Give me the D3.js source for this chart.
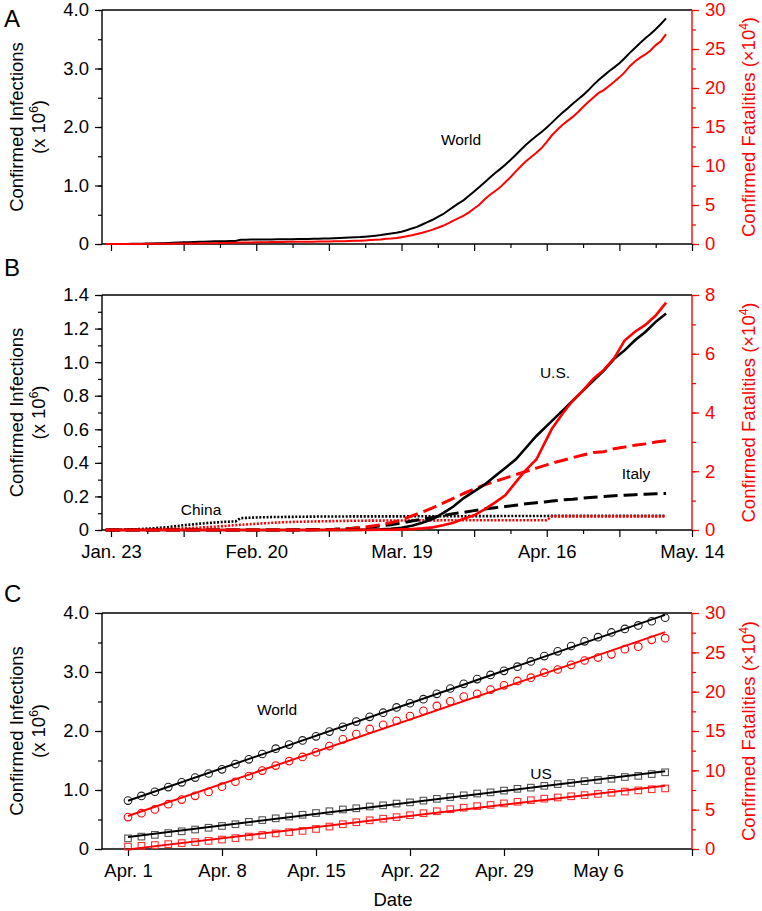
<!DOCTYPE html>
<html lang="en">
<head>
<meta charset="utf-8">
<title>Confirmed infections and fatalities</title>
<script src="https://d3js.org/d3.v7.min.js"></script>
<style>
  body { margin: 0; background: #fff; }
  svg text { font-family: "Liberation Sans", Arial, sans-serif; }
</style>
</head>
<body>
<script>

// ---------- data ----------
// panel A: world, daily from Jan 22 (cases x10^6, deaths x10^4)
var aStart = "2020-01-22";
var worldCasesA = [
  .0003, .0006, .0008, .0013, .0020, .0028, .0046, .0061, .0078, .0098,
  .0120, .0146, .0174, .0206, .0246, .0283, .0315, .0349, .0376, .0406, .0431, .0452, .0470, .0491, .0506,
  .0519, .0714, .0733, .0752, .0757, .0768, .0778, .0788, .0793, .0802, .0811, .0823, .0837, .0854,
  .0871, .0889, .0909, .0931, .0953, .0982, .1020, .1056, .1096, .1137, .1183, .1250, .1328, .1425, .1535,
  .1675, .1791, .1911, .2098, .2341, .2661, .2921, .3329, .3728, .4142, .4627, .5092, .5717, .6348, .6932, .7509,
  .8236, .8965, .9723, 1.0516, 1.1338, 1.2110, 1.2797, 1.3534, 1.4362, 1.5213, 1.6109, 1.6966, 1.7731, 1.8449, 1.9149,
  1.9916, 2.0745, 2.1602, 2.2418, 2.3146, 2.3972, 2.4711, 2.5448, 2.6263, 2.7199, 2.8048, 2.8782, 2.9542, 3.0190, 3.0904,
  3.1752, 3.2672, 3.3498, 3.4359, 3.5173, 3.5888, 3.6722, 3.7600, 3.8558
];
var worldDeathsA = [
  .0006, .0017, .0025, .0041, .0056, .0080, .0106, .0132, .0170, .0213,
  .0259, .0305, .0362, .0426, .0492, .0565, .0638, .0724, .0813, .0910, .1018, .1115, .1260, .1383, .1526,
  .1669, .1775, .1873, .2009, .2129, .2247, .2360, .2462, .2618, .2699, .2762, .2804, .2858, .2924,
  .2977, .3043, .3112, .3198, .3285, .3380, .3491, .3584, .3802, .4011, .4291, .4613, .4983, .5396, .5735,
  .6606, .7087, .7807, .8778, .9840, 1.1184, 1.2783, 1.4510, 1.6231, 1.8440, 2.0834, 2.3335, 2.6494, 2.9957, 3.3106, 3.6405,
  4.0598, 4.5526, 5.0321, 5.6985, 6.2784, 6.7594, 7.2614, 7.9235, 8.5521, 9.2798, 9.9690, 10.5952, 11.1652, 11.7021, 12.3010,
  13.0885, 13.9378, 14.6088, 15.2551, 15.7847, 16.2956, 16.9006, 17.5694, 18.1938, 18.7705, 19.3710, 19.7246, 20.2597, 20.7973, 21.3614,
  22.0, 22.8, 23.4, 23.9, 24.3, 24.8, 25.5, 26.0, 26.9
];

// panel B: U.S., Italy, China
var bDates = ["01-22","01-25","01-28","01-31","02-03","02-06","02-09","02-12","02-14","02-16",
  "02-17","02-20","02-23","02-26","02-29","03-03","03-06","03-09","03-12","03-15",
  "03-17","03-19","03-21","03-23","03-25","03-27","03-29","03-31","04-02","04-04",
  "04-06","04-08","04-10","04-12","04-14","04-16","04-17","04-19","04-21","04-23",
  "04-25","04-27","04-29","05-01","05-03","05-05","05-07","05-09"];
var usCasesB = [0,0,0,0,0,0,0,0,0,0, 0,0,0,.0001,.0001,.0001,.0003,.0006,.0016,.0035,
  .0065,.0137,.025,.043,.065,.100,.14,.19,.23,.27, .32,.37,.42,.49,.56,.62,.65,.71,.77,.83,
  .89,.95,1.02,1.07,1.13,1.18,1.24,1.29];
var usDeathsB = [0,0,0,0,0,0,0,0,0,0, 0,0,0,0,.0001,.0007,.0012,.0022,.004,.006,
  .01,.02,.03,.055,.09,.16,.25,.38,.50,.70, .93,1.18,1.62,2.05,2.40,3.10,3.45,3.95,4.40,4.75,
  5.15,5.45,5.85,6.45,6.75,6.98,7.30,7.74];
var italyCasesB = [0,0,0,0,0,0,0,0,0,0, 0,0,.00015,.0004,.0011,.0025,.0046,.0092,.0152,.0247,
  .0315,.0414,.0536,.0638,.0746,.0865,.0975,.1056,.1155,.1246, .1325,.1396,.1474,.1564,.1622,.1686,.1721,.1789,.1832,.1896,
  .1955,.1991,.2036,.2075,.2106,.2134,.2155,.2180];
var italyDeathsB = [0,0,0,0,0,0,0,0,0,0, 0,0,.0003,.0012,.0029,.0079,.0197,.0463,.1016,.1809,
  .2503,.3405,.4825,.6077,.7503,.9134,1.0779,1.2428,1.3915,1.5362, 1.6523,1.7669,1.8849,1.9899,2.1067,2.2170,2.2745,2.3660,2.4648,2.5549,
  2.6384,2.6644,2.7682,2.8236,2.8884,2.9315,2.9958,3.0395];
var chinaCasesB = [.0003,.0013,.0045,.0098,.0172,.0282,.0374,.0446,.0489,.0512,
  .0706,.0748,.0770,.0781,.0790,.0802,.0806,.0809,.0810,.0812, .0813,.0814,.0815,.0816,.0817,.0818,.0820,.0823,.0825,.0827,
  .0829,.0831,.0833,.0835,.0837,.0838,.0840,.0841,.0842,.0842, .0843,.0843,.0843,.0843,.0843,.0844,.0844,.0844];
var chinaDeathsB = [.0006,.0041,.0106,.0213,.0361,.0563,.0811,.1117,.1381,.1666,
  .1772,.2118,.2442,.2715,.2835,.2943,.3045,.3123,.3173,.3199, .3231,.3249,.3261,.3274,.3287,.3298,.3308,.3312,.3322,.3330,
  .3335,.3339,.3340,.3341,.3342,.3342,.4642,.4642,.4642,.4642, .4642,.4643,.4643,.4643,.4643,.4643,.4644,.4645];
var bLabelDates = ["01-23","02-20","03-19","04-16","05-14"];
var bLabels = ["Jan. 23","Feb. 20","Mar. 19","Apr. 16","May. 14"];

// panel C: daily from Apr 1
var cStart = "2020-04-01";
var worldCasesC = [.82,.90,.97,1.05,1.13,1.21,1.28,1.35,1.44,1.52, 1.61,1.70,1.77,1.84,1.91,1.99,2.07,2.16,2.24,2.31,
  2.40,2.47,2.54,2.63,2.72,2.80,2.88,2.95,3.02,3.09, 3.18,3.27,3.35,3.44,3.52,3.59,3.67,3.73,3.79,3.86,3.92];
var worldDeathsC = [4.06,4.55,5.03,5.70,6.28,6.76,7.26,7.92,8.55,9.28, 9.97,10.60,11.17,11.70,12.30,13.09,13.94,14.61,15.26,15.78,
  16.30,16.90,17.57,18.19,18.77,19.37,19.72,20.26,20.80,21.36, 21.78,22.42,22.82,23.41,23.96,24.34,24.75,25.40,25.72,26.59,26.80];
var usCasesC = [.18,.21,.24,.27,.30,.33,.36,.39,.42,.46, .49,.52,.55,.58,.61,.64,.67,.69,.72,.74,
  .77,.79,.82,.85,.88,.91,.94,.96,.99,1.02, 1.04,1.07,1.10,1.12,1.15,1.17,1.19,1.22,1.24,1.27,1.30];
var usDeathsC = [.30,.40,.50,.62,.75,.88,1.03,1.20,1.38,1.58, 1.78,1.98,2.15,2.30,2.55,2.85,3.15,3.40,3.65,3.85,
  4.05,4.30,4.55,4.80,5.05,5.25,5.45,5.60,5.80,6.00, 6.20,6.40,6.55,6.70,6.85,7.00,7.15,7.30,7.45,7.60,7.70];
var cTickLabels = ["Apr. 1","Apr. 8","Apr. 15","Apr. 22","Apr. 29","May 6",""];

// ---------- layout ----------
var W = 762, H = 911;
var RED = "#ff0000";
var L = 102, R = 692;
var FS = 18.5;

var svg = d3.select("body").append("svg").attr("width", W).attr("height", H);

var parse = d3.utcParse("%Y-%m-%d");
function md(s) { return parse("2020-" + s); }

function series(dates, vals) {
  return vals.map(function(v, i) { return {date: dates[i], v: v}; });
}

// frame + y axes for one panel
function panel(top, bottom, lMax, lStep, lMinor, lFmt, rMax, rStep, rMinor) {
  var yL = d3.scaleLinear().domain([0, lMax]).range([bottom, top]);
  var yR = d3.scaleLinear().domain([0, rMax]).range([bottom, top]);
  var g = svg.append("g");

  function ax(gen, vals, size, fmt, xpos, col) {
    var a = g.append("g").attr("transform", "translate(" + xpos + ",0)")
      .call(gen.tickValues(vals).tickSize(size).tickPadding(6).tickFormat(fmt));
    a.select(".domain").remove();
    a.selectAll("line").attr("stroke", col).attr("stroke-width", 1.2);
    a.selectAll("text").attr("fill", col).style("font-size", FS + "px");
  }
  var lMaj = d3.range(0, lMax + 1e-9, lStep), lMin = d3.range(0, lMax + 1e-9, lMinor);
  var rMaj = d3.range(0, rMax + 1e-9, rStep), rMin = d3.range(0, rMax + 1e-9, rMinor);
  ax(d3.axisLeft(yL), lMin, 4, "", L, "#000");
  ax(d3.axisLeft(yL), lMaj, 7, lFmt, L, "#000");
  ax(d3.axisRight(yR), rMin, 4, "", R, RED);
  ax(d3.axisRight(yR), rMaj, 7, d3.format("d"), R, RED);

  g.append("line").attr("x1", L).attr("x2", R).attr("y1", top).attr("y2", top).attr("stroke", "#000").attr("stroke-width", 1.4);
  g.append("line").attr("x1", L).attr("x2", R).attr("y1", bottom).attr("y2", bottom).attr("stroke", "#000").attr("stroke-width", 1.4);
  g.append("line").attr("x1", L).attr("x2", L).attr("y1", top).attr("y2", bottom).attr("stroke", "#000").attr("stroke-width", 1.4);
  g.append("line").attr("x1", R).attr("x2", R).attr("y1", top).attr("y2", bottom).attr("stroke", RED).attr("stroke-width", 1.4);

  // axis titles
  var mid = (top + bottom) / 2;
  g.append("text").attr("transform", "translate(23," + mid + ") rotate(-90)")
    .attr("text-anchor", "middle").style("font-size", FS + "px").text("Confirmed Infections");
  var t2 = g.append("text").attr("transform", "translate(45," + mid + ") rotate(-90)")
    .attr("text-anchor", "middle").style("font-size", FS + "px");
  t2.append("tspan").text("(x 10");
  t2.append("tspan").attr("dy", -7).style("font-size", "12px").text("6");
  t2.append("tspan").attr("dy", 7).text(")");
  var t3 = g.append("text").attr("transform", "translate(755," + mid + ") rotate(-90)")
    .attr("text-anchor", "middle").attr("fill", RED).style("font-size", FS + "px");
  t3.append("tspan").text("Confirmed Fatalities (\u00d710");
  t3.append("tspan").attr("dy", -7).style("font-size", "12px").text("4");
  t3.append("tspan").attr("dy", 7).text(")");
  return {yL: yL, yR: yR, g: g, top: top, bottom: bottom};
}

function fmt1(d) { return d === 0 ? "0" : d3.format(".1f")(d); }

function letter(s, y) {
  svg.append("text").attr("x", 4).attr("y", y).style("font-size", "24px").text(s);
}

function label(s, x, y, col) {
  svg.append("text").attr("x", x).attr("y", y).attr("text-anchor", "middle")
    .attr("fill", col || "#000").style("font-size", "15.5px").text(s);
}

// shared x scale for A and B
var xAB = d3.scaleUtc().domain([md("01-23"), md("05-14")]).range([111, R]);
var weekTicks = d3.utcDay.range(md("01-23"), d3.utcDay.offset(md("05-14"), 1), 7);

function xTicksAB(p, withLabels) {
  var maj = weekTicks.filter(function(d, i) { return i % 2 === 0; });
  var min = weekTicks.filter(function(d, i) { return i % 2 === 1; });
  [[min, 4], [maj, 7]].forEach(function(s) {
    var a = p.g.append("g").attr("transform", "translate(0," + p.bottom + ")")
      .call(d3.axisBottom(xAB).tickValues(s[0]).tickSize(s[1]).tickFormat(""));
    a.select(".domain").remove();
    a.selectAll("line").attr("stroke", "#000").attr("stroke-width", 1.2);
  });
  if (withLabels) {
    var lab = d3.axisBottom(xAB).tickValues(bLabelDates.map(md)).tickSize(0).tickPadding(15)
      .tickFormat(function(d, i) { return bLabels[i]; });
    var a = p.g.append("g").attr("transform", "translate(0," + p.bottom + ")").call(lab);
    a.select(".domain").remove();
    a.selectAll("text").attr("fill", "#000").style("font-size", FS + "px");
  }
}

var line = function(x, y) {
  return d3.line().x(function(d) { return x(d.date); }).y(function(d) { return y(d.v); });
};

// ---------- panel A ----------
var pA = panel(10, 244, 4, 1, 0.5, fmt1, 30, 5, 2.5);
xTicksAB(pA, false);
var aDates = worldCasesA.map(function(d, i) { return d3.utcDay.offset(parse(aStart), i); });
pA.g.append("path").datum(series(aDates, worldCasesA)).attr("d", line(xAB, pA.yL))
  .attr("fill", "none").attr("stroke", "#000").attr("stroke-width", 2);
pA.g.append("path").datum(series(aDates, worldDeathsA)).attr("d", line(xAB, pA.yR))
  .attr("fill", "none").attr("stroke", RED).attr("stroke-width", 2);
letter("A", 27);
label("World", 461, 145);

// ---------- panel B ----------
var pB = panel(295, 530, 1.4, 0.2, 0.1, fmt1, 8, 2, 1);
xTicksAB(pB, true);
var bD = bDates.map(md);
var bSeries = [
  [chinaCasesB, pB.yL, "#000", 2.6, "2,1.6"],
  [chinaDeathsB, pB.yR, RED, 2.6, "2,1.6"],
  [italyCasesB, pB.yL, "#000", 3, "14,6"],
  [italyDeathsB, pB.yR, RED, 3, "14,6"],
  [usCasesB, pB.yL, "#000", 2.6, null],
  [usDeathsB, pB.yR, RED, 2.6, null]
];
bSeries.forEach(function(s) {
  pB.g.append("path").datum(series(bD, s[0])).attr("d", line(xAB, s[1]))
    .attr("fill", "none").attr("stroke", s[2]).attr("stroke-width", s[3])
    .attr("stroke-dasharray", s[4]);
});
letter("B", 276);
label("China", 201, 515);
label("U.S.", 555, 378);
label("Italy", 636, 479);

// ---------- panel C ----------
var pC = panel(613, 849, 4, 1, 0.5, fmt1, 30, 5, 2.5);
var xC = d3.scaleUtc().domain([parse(cStart), d3.utcDay.offset(parse(cStart), 42)]).range([128, R]);
var cTicks = d3.range(7).map(function(i) { return d3.utcDay.offset(parse(cStart), i * 7); });
var ca = pC.g.append("g").attr("transform", "translate(0," + pC.bottom + ")")
  .call(d3.axisBottom(xC).tickValues(cTicks).tickSize(7).tickPadding(8)
    .tickFormat(function(d, i) { return cTickLabels[i]; }));
ca.select(".domain").remove();
ca.selectAll("line").attr("stroke", "#000").attr("stroke-width", 1.2);
ca.selectAll("text").attr("fill", "#000").style("font-size", FS + "px");
svg.append("text").attr("x", 393).attr("y", 906).attr("text-anchor", "middle")
  .style("font-size", FS + "px").text("Date");

var cDates = worldCasesC.map(function(d, i) { return d3.utcDay.offset(parse(cStart), i); });

function fit(vals) {
  var mx = d3.mean(vals, function(d, i) { return i; }), my = d3.mean(vals);
  var sxy = d3.sum(vals, function(d, i) { return (i - mx) * (d - my); });
  var sxx = d3.sum(vals, function(d, i) { return (i - mx) * (i - mx); });
  var b = sxy / sxx, a = my - b * mx, n = vals.length - 1;
  return [{date: cDates[0], v: a}, {date: cDates[n], v: a + b * n}];
}

var cSeries = [
  [usCasesC, pC.yL, "#555", "#000", "square"],
  [usDeathsC, pC.yR, "#ff3030", RED, "square"],
  [worldCasesC, pC.yL, "#222", "#000", "circle"],
  [worldDeathsC, pC.yR, RED, RED, "circle"]
];
cSeries.forEach(function(s) {
  var pts = series(cDates, s[0]);
  if (s[4] === "circle") {
    pC.g.selectAll(null).data(pts).enter().append("circle")
      .attr("cx", function(d) { return xC(d.date); })
      .attr("cy", function(d) { return s[1](d.v); })
      .attr("r", 3.8).attr("fill", "none").attr("stroke", s[2]).attr("stroke-width", 1.1);
  } else {
    pC.g.selectAll(null).data(pts).enter().append("rect")
      .attr("x", function(d) { return xC(d.date) - 3.3; })
      .attr("y", function(d) { return s[1](d.v) - 3.3; })
      .attr("width", 6.6).attr("height", 6.6)
      .attr("fill", "none").attr("stroke", s[2]).attr("stroke-width", 1.1);
  }
  pC.g.append("path").datum(fit(s[0])).attr("d", line(xC, s[1]))
    .attr("fill", "none").attr("stroke", s[3]).attr("stroke-width", 2);
});
letter("C", 602);
label("World", 277, 715);
label("US", 541, 779);

</script>
</body>
</html>
